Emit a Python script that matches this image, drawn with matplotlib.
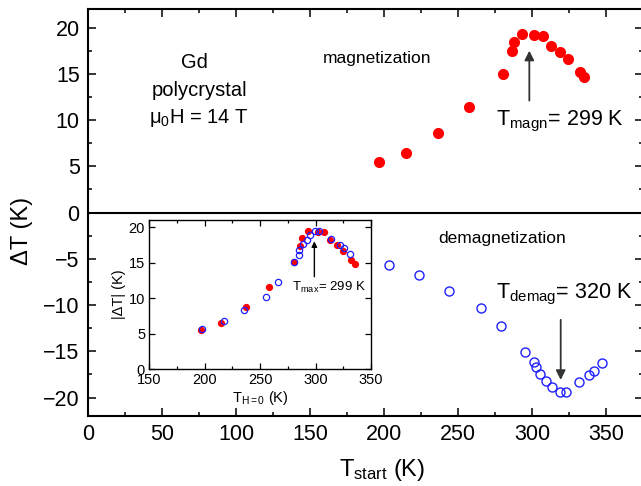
import matplotlib
matplotlib.use("Agg")
import matplotlib.pyplot as plt
from matplotlib.ticker import MultipleLocator

plt.rcParams['font.family'] = ['Liberation Sans', 'DejaVu Sans']
plt.rcParams['mathtext.fontset'] = 'custom'
plt.rcParams['mathtext.rm'] = 'Liberation Sans'
plt.rcParams['mathtext.it'] = 'Liberation Sans:italic'

# magnetization (main plot, filled red)
mag_T = [196.6, 214.7, 236.5, 257.4, 280.4, 286.5, 287.8, 293.4, 301.6, 307.6, 312.8, 318.7, 324.0, 332.4, 335.4]
mag_dT = [5.5, 6.4, 8.6, 11.4, 15.0, 17.5, 18.4, 19.3, 19.2, 19.1, 18.0, 17.4, 16.6, 15.2, 14.7]

# demagnetization (main plot, open blue)
dem_T = [203.4, 223.6, 243.9, 265.5, 279.0, 295.3, 301.4, 302.7, 305.4, 309.5, 313.5, 318.9, 323.0, 331.8, 338.5, 341.9, 347.3]
dem_dT = [-5.7, -6.75, -8.5, -10.3, -12.3, -15.1, -16.2, -16.7, -17.5, -18.2, -18.9, -19.4, -19.4, -18.3, -17.6, -17.1, -16.3]

# inset: |dT| vs T(H=0)
ins_mag_T = [196.4, 215.0, 236.9, 257.8, 280.3, 286.3, 287.5, 293.5, 301.9, 307.9, 313.0, 318.9, 324.3, 332.4, 335.7]
ins_mag_dT = [5.5, 6.45, 8.7, 11.6, 15.1, 17.4, 18.4, 19.5, 19.3, 19.3, 18.2, 17.5, 16.7, 15.4, 14.8]
ins_dem_T = [197.1, 217.1, 235.1, 255.5, 266.5, 280.3, 284.8, 285.4, 289.0, 292.0, 295.0, 299.5, 303.4, 313.9, 322.0, 325.8, 331.0]
ins_dem_dT = [5.65, 6.8, 8.3, 10.2, 12.2, 15.1, 16.1, 16.8, 17.6, 18.2, 18.9, 19.5, 19.5, 18.3, 17.5, 17.1, 16.2]

red = '#ff0000'
blue = '#2020ff'
arrow_col = '#333333'

fig = plt.figure(figsize=(6.41, 4.86), dpi=100)
ax = fig.add_axes([0.1373, 0.144, 0.8658, 0.8374])

ax.plot(mag_T, mag_dT, 'o', color=red, ms=7, mec=red)
ax.plot(dem_T, dem_dT, 'o', mfc='none', mec=blue, ms=6.5, mew=1.0)
ax.axhline(0, color='black', lw=1.5, zorder=1)

ax.set_xlim(0, 375)
ax.set_ylim(-22, 22)
ax.xaxis.set_major_locator(MultipleLocator(50))
ax.xaxis.set_minor_locator(MultipleLocator(25))
ax.yaxis.set_major_locator(MultipleLocator(5))
ax.yaxis.set_minor_locator(MultipleLocator(2.5))
ax.tick_params(which='both', direction='in', top=True, right=True, width=1.1, labelsize=15.5, pad=6)
ax.tick_params(which='major', length=6)
ax.tick_params(which='minor', length=3)
for s in ax.spines.values():
    s.set_linewidth(1.5)

ax.set_xlabel(r'T$_{\mathrm{start}}$ (K)', fontsize=17)
ax.set_ylabel('ΔT (K)', fontsize=17)
ax.xaxis.set_label_coords(0.53, -0.1)
ax.yaxis.set_label_coords(-0.1, 0.455)

ax.text(71.6, 16.2, 'Gd', fontsize=14.5, ha='center', va='center')
ax.text(75, 13.2, 'polycrystal', fontsize=14.5, ha='center', va='center')
ax.text(75, 10.2, r'$\mathrm{μ_0}$H = 14 T', fontsize=14.5, ha='center', va='center')
ax.text(158.8, 16.7, 'magnetization', fontsize=12.5, ha='left', va='center')
ax.text(236.5, -2.8, 'demagnetization', fontsize=12.5, ha='left', va='center')
ax.text(275.7, 9.4, r'T$_{\mathrm{magn}}$= 299 K', fontsize=15.5, ha='left', va='baseline')
ax.text(276.0, -9.25, r'T$_{\mathrm{demag}}$= 320 K', fontsize=15.5, ha='left', va='baseline')

arrow = dict(arrowstyle='-|>', color=arrow_col, lw=1.3, mutation_scale=14, shrinkA=0, shrinkB=0)
ax.annotate('', xy=(298.2, 17.5), xytext=(298.2, 12.1), arrowprops=arrow)
ax.annotate('', xy=(319.4, -18.1), xytext=(319.4, -11.6), arrowprops=arrow)

# inset
ins = fig.add_axes([0.2329, 0.2407, 0.3459, 0.3066])
ins.plot(ins_mag_T, ins_mag_dT, 'o', color=red, ms=4.2, mec=red)
ins.plot(ins_dem_T, ins_dem_dT, 'o', mfc='none', mec=blue, ms=4.5, mew=0.9)
ins.set_xlim(150, 350)
ins.set_ylim(0, 21)
ins.xaxis.set_major_locator(MultipleLocator(50))
ins.xaxis.set_minor_locator(MultipleLocator(25))
ins.yaxis.set_major_locator(MultipleLocator(5))
ins.tick_params(which='both', direction='in', top=True, right=True, width=0.9, labelsize=10.5, pad=3)
ins.tick_params(which='major', length=4)
ins.tick_params(which='minor', length=2.5)
for s in ins.spines.values():
    s.set_linewidth(1.0)
ins.set_xlabel(r'T$_{\mathrm{H=0}}$ (K)', fontsize=10.5, labelpad=1)
ins.set_ylabel('|ΔT| (K)', fontsize=10.5, labelpad=2)
ins.text(279, 11.0, r'T$_{\mathrm{max}}$= 299 K', fontsize=9.5, ha='left', va='baseline')
ins.annotate('', xy=(298.9, 18.0), xytext=(298.9, 13.0),
             arrowprops=dict(arrowstyle='-|>', color='black', lw=1.0, mutation_scale=8, shrinkA=0, shrinkB=0))

fig.savefig('out.png', dpi=100)
